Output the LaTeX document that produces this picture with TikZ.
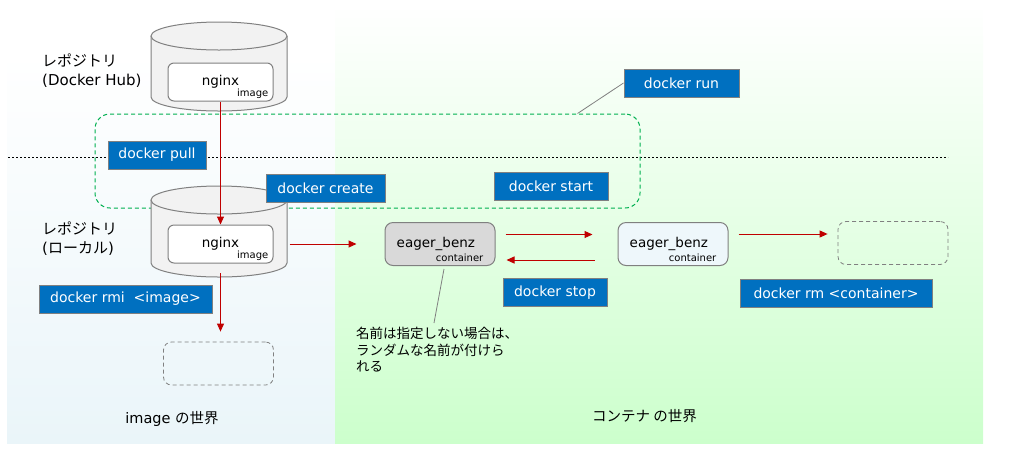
\documentclass[tikz,border=0pt]{standalone}
\usepackage{fontspec}
\setmainfont{DejaVu Sans}
\newfontfamily\jp{Noto Sans CJK JP}
\usetikzlibrary{arrows.meta}

\definecolor{cmdblue}{RGB}{0,112,192}
\definecolor{redline}{RGB}{192,0,0}
\definecolor{runline}{RGB}{0,176,80}
\definecolor{imgbg}{RGB}{234,245,249}
\definecolor{conbg}{RGB}{204,255,204}
\definecolor{cylgray}{RGB}{242,242,242}
\definecolor{edgegray}{RGB}{128,128,128}
\definecolor{congray}{RGB}{217,217,217}
\definecolor{conlight}{RGB}{238,247,251}

\begin{document}
\begin{tikzpicture}[x=1pt,y=-1pt,
  cmd/.style={draw=edgegray,line width=1pt,fill=cmdblue,text=white,inner sep=0pt,
    minimum height=28pt,font=\fontsize{14}{17}\selectfont},
  imgbox/.style={draw=edgegray,line width=1pt,fill=white,rounded corners=6pt,
    minimum width=105pt,minimum height=38pt,font=\fontsize{13.5}{16}\selectfont},
  conbox/.style={draw=edgegray,line width=1pt,rounded corners=8pt,
    minimum width=110pt,minimum height=43pt},
  gone/.style={draw=edgegray,line width=0.8pt,dash pattern=on 4pt off 3pt,
    rounded corners=8pt,minimum width=110pt,minimum height=43pt},
  runbox/.style={draw=runline,line width=1pt,dash pattern=on 4pt off 3pt,
    rounded corners=15pt,minimum width=545pt,minimum height=94pt},
  flow/.style={draw=redline,line width=1pt,-{Triangle[length=8pt,width=7pt]}},
  pointer/.style={draw=edgegray,line width=0.8pt},
  tag/.style={inner sep=0pt,font=\fontsize{10}{12}\selectfont},
  ctext/.style={inner sep=0pt,font=\fontsize{13.5}{16}\selectfont},
  repo/.style={inner sep=0pt,align=left,font=\fontsize{15}{19}\selectfont},
  world/.style={inner sep=0pt,font=\fontsize{14.5}{17}\selectfont}]
\useasboundingbox (0,0) rectangle (1022,451);

% two worlds
\shade[top color=white,bottom color=imgbg] (7,53) rectangle (335,443);
\shade[top color=white,bottom color=conbg] (335,5) rectangle (983,443);

\coordinate (divL) at (8,157);
\coordinate (divR) at (948,157);
\draw[line width=0.8pt,dash pattern=on 2pt off 2pt] (divL) -- (divR);

\node[runbox] (runbox) at (367.5,161) {};

% repositories
\foreach \t/\b in {36/97, 200/263} {
  \fill[cylgray] (151,\t) rectangle (287,\b);
  \fill[cylgray] (219,\b) ellipse [x radius=68,y radius=14];
  \draw[edgegray,line width=1pt] (151,\t) -- (151,\b)
    arc[start angle=180,end angle=0,x radius=68,y radius=14] -- (287,\t);
  \draw[edgegray,line width=1pt,fill=cylgray] (219,\t) ellipse [x radius=68,y radius=14];
}
\node[repo,anchor=north west] (hubrepo) at (42,54) {{\jp レポジトリ}\\(Docker Hub)};
\node[repo,anchor=north west] (localrepo) at (42,222) {{\jp レポジトリ}\\({\jp ローカル})};

\node[imgbox] (hubimg) at (220.5,82) {nginx};
\node[imgbox] (localimg) at (220.5,244) {nginx};
\node[tag,anchor=base east] (hubtag) at ([shift={(-5,-5)}]hubimg.south east) {image};
\node[tag,anchor=base east] (localtag) at ([shift={(-5,-5)}]localimg.south east) {image};
\coordinate (localbase) at (220.5,273);
\node[gone] (goneimg) at (218.5,363.5) {};

% containers
\foreach \n/\x/\c in {cont1/440/congray, cont2/673/conlight} {
  \node[conbox,fill=\c] (\n) at (\x,244) {};
  \node[ctext,anchor=base west] (\n name) at ([shift={(12,3)}]\n.west) {eager\_benz};
  \node[tag,anchor=base east] (\n tag) at ([shift={(-12,17)}]\n.east) {container};
}
\node[gone] (gonecon) at (893,243) {};

\node[inner sep=0pt,anchor=north west,align=left,font=\jp\fontsize{13.5}{16.5}\selectfont]
  (note) at (356,327) {名前は指定しない場合は、\\ランダムな名前が付けら\\れる};
\draw[pointer] ([shift={(4,3)}]cont1.south) -- ([shift={(78,-4)}]note.north west);

\node[world] (imgworld) at (172,419) {image {\jp の世界}};
\node[world] (conworld) at (644.5,416.5) {\jp コンテナ の世界};

% lifecycle
\draw[flow] (hubimg) -- (localimg);
\draw[flow,shorten >=10pt] (localbase) -- (localbase |- goneimg.north);
\draw[flow] ([xshift=16pt]localimg.east) -- ([xshift=-28pt]cont1.west);
\draw[flow] ([shift={(10,-9.5)}]cont1.east) -- ([shift={(-25,-9.5)}]cont2.west);
\draw[flow] ([shift={(-23,16)}]cont2.west) -- ([shift={(11,16)}]cont1.east);
\draw[flow] ([shift={(10,-10)}]cont2.east) -- ([shift={(-10,-9)}]gonecon.west);

\foreach \n/\x/\y/\w/\t in {pull/157/155/98/docker pull,
    create/325.5/188/119/docker create, start/551/186.5/114/docker start,
    run/681.5/83/115/docker run, rmi/125.5/299/173/docker rmi\ \ <image>,
    stop/555/292.5/104/docker stop, rm/836/293/192/docker rm <container>}
  \node[cmd,minimum width=\w pt] (\n) at (\x,\y) {\t};
\draw[pointer] (run.west) -- ([xshift=210pt]runbox.north);
\end{tikzpicture}
\end{document}
